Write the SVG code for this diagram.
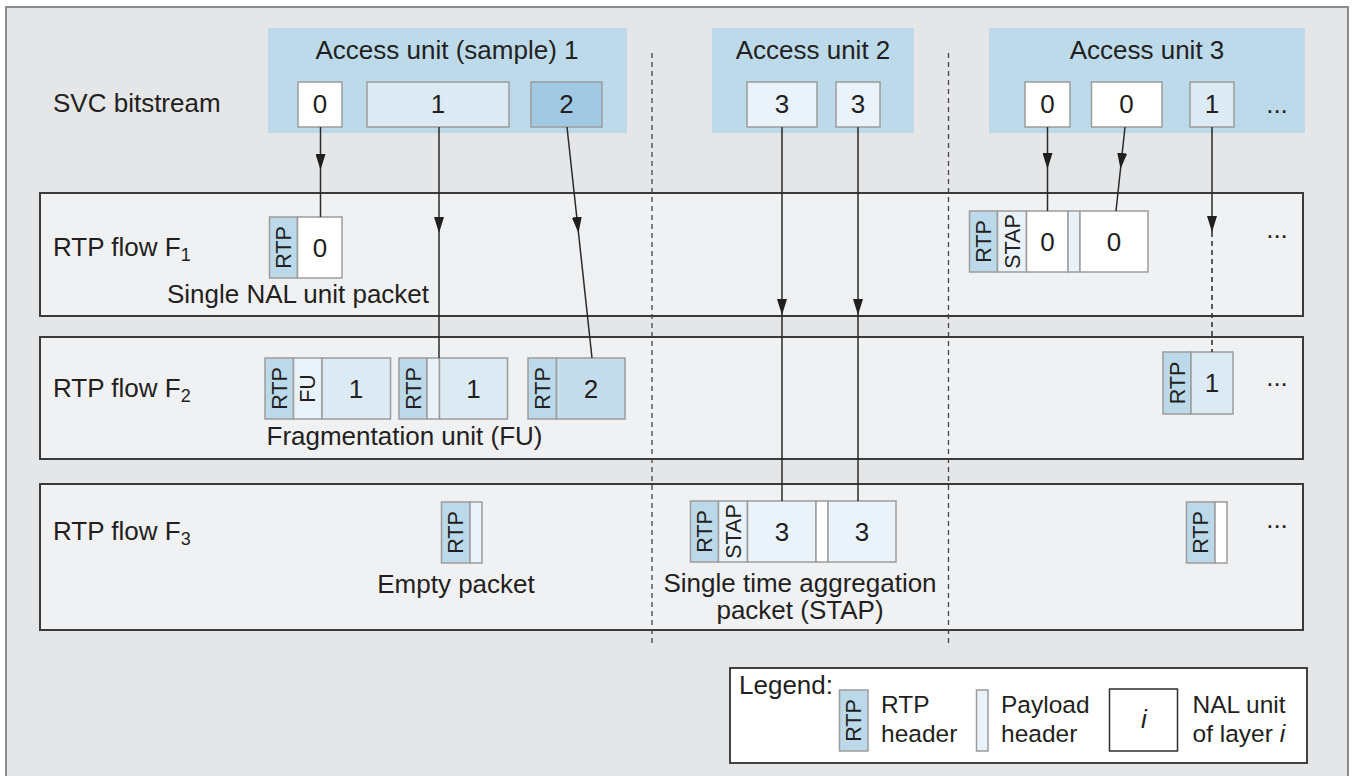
<svg xmlns="http://www.w3.org/2000/svg" width="1356" height="776" viewBox="0 0 1356 776">
<defs>
<style>
text{font-family:"Liberation Sans",Arial,sans-serif;fill:#231f20;}
.t{font-size:26px;}
.lg{font-size:24.5px;}
.c{text-anchor:middle;}
.v{font-size:21.5px;text-anchor:middle;}
.au{fill:#bddaea;}
.cell{stroke:#9c9c9c;stroke-width:1.5;}
.rtp{fill:#bcd9ea;}
.ph{fill:#eaf2f9;}
.l0{fill:#ffffff;}
.l1{fill:#dceaf4;}
.l2{fill:#a2c9e3;}
.l2b{fill:#c4dcec;}
.l3{fill:#eaf2fa;}
.flow{fill:#f0f1f3;stroke:#3a3a3a;stroke-width:2;}
.sep{stroke:#444;stroke-width:1.3;stroke-dasharray:5 4;fill:none;}
.con{stroke:#2a2a2a;stroke-width:1.5;fill:none;}
.arr{marker-end:url(#ah);}
.dash{stroke-dasharray:5 4;}
</style>
<marker id="ah" viewBox="0 0 16 10" refX="16" refY="5" markerWidth="16" markerHeight="10" markerUnits="userSpaceOnUse" orient="auto">
<path d="M0,0 L16,5 L0,10 Z" fill="#1f1f1f"/>
</marker>
</defs>

<rect id="frame" x="6" y="7" width="1342" height="776" fill="#e5e6e8" stroke="#8c8c8c" stroke-width="2"/>

<g id="svc-bitstream">
<text class="t" x="53" y="112">SVC bitstream</text>
</g>

<g id="au1">
<rect class="au" x="268" y="28" width="359" height="105"/>
<text class="t c" x="447" y="59">Access unit (sample) 1</text>
<rect class="cell l0" x="298" y="82" width="44" height="45"/>
<text class="t c" x="320" y="113">0</text>
<rect class="cell l1" x="367" y="82" width="142" height="45"/>
<text class="t c" x="438" y="113">1</text>
<rect class="cell l2" x="531" y="82" width="71" height="45"/>
<text class="t c" x="566.5" y="113">2</text>
</g>

<g id="au2">
<rect class="au" x="712" y="28" width="202" height="105"/>
<text class="t c" x="813" y="59">Access unit 2</text>
<rect class="cell l3" x="747" y="82" width="70" height="45"/>
<text class="t c" x="782" y="113">3</text>
<rect class="cell l3" x="836" y="82" width="44" height="45"/>
<text class="t c" x="858" y="113">3</text>
</g>

<g id="au3">
<rect class="au" x="989" y="28" width="316" height="105"/>
<text class="t c" x="1147" y="59">Access unit 3</text>
<rect class="cell l0" x="1025" y="82" width="45" height="45"/>
<text class="t c" x="1047.5" y="113">0</text>
<rect class="cell l0" x="1091.5" y="82" width="70.5" height="45"/>
<text class="t c" x="1126.5" y="113">0</text>
<rect class="cell l1" x="1190" y="82" width="44" height="45"/>
<text class="t c" x="1212" y="113">1</text>
<text class="t c" x="1277" y="113">...</text>
</g>

<g id="flow-f1">
<rect class="flow" x="40" y="193" width="1263" height="123"/>
<text class="t" x="53" y="256">RTP flow F<tspan font-size="18" dy="5">1</tspan></text>
</g>
<g id="flow-f2">
<rect class="flow" x="40" y="337" width="1263" height="122"/>
<text class="t" x="53" y="397">RTP flow F<tspan font-size="18" dy="5">2</tspan></text>
</g>
<g id="flow-f3">
<rect class="flow" x="40" y="484" width="1263" height="146"/>
<text class="t" x="53" y="540">RTP flow F<tspan font-size="18" dy="5">3</tspan></text>
</g>

<g id="separators">
<line class="sep" x1="652" y1="53" x2="652" y2="645"/>
<line class="sep" x1="948.5" y1="53" x2="948.5" y2="645"/>
</g>

<g id="f1-single-nal">
<rect class="cell rtp" x="269.5" y="217" width="28" height="61"/>
<rect class="cell l0" x="297.5" y="217" width="44.5" height="61"/>
<text class="v" transform="translate(283.5,247.5) rotate(-90)" dy="7.7">RTP</text>
<text class="t c" x="320" y="256.5">0</text>
<text class="t c" x="298" y="303">Single NAL unit packet</text>
</g>

<g id="f1-stap">
<rect class="cell rtp" x="969.5" y="211" width="28" height="61"/>
<rect class="cell ph" x="997.5" y="211" width="29" height="61"/>
<rect class="cell l0" x="1026.5" y="211" width="41.5" height="61"/>
<rect class="cell ph" x="1068" y="211" width="12" height="61"/>
<rect class="cell l0" x="1080" y="211" width="68" height="61"/>
<text class="v" transform="translate(983.5,241.5) rotate(-90)" dy="7.7">RTP</text>
<text class="v" transform="translate(1012,241.5) rotate(-90)" dy="7.7">STAP</text>
<text class="t c" x="1047.5" y="250.5">0</text>
<text class="t c" x="1114" y="250.5">0</text>
<text class="t c" x="1277" y="238">...</text>
</g>

<g id="f2-fu">
<rect class="cell rtp" x="265" y="358" width="28.5" height="61"/>
<rect class="cell ph" x="293.5" y="358" width="28.5" height="61"/>
<rect class="cell l1" x="322" y="358" width="68.5" height="61"/>
<text class="v" transform="translate(279.25,388.5) rotate(-90)" dy="7.7">RTP</text>
<text class="v" transform="translate(307.75,388.5) rotate(-90)" dy="7.7">FU</text>
<text class="t c" x="356" y="397.5">1</text>
<rect class="cell rtp" x="399" y="358" width="28" height="61"/>
<rect class="cell ph" x="427" y="358" width="12.5" height="61"/>
<rect class="cell l1" x="439.5" y="358" width="68" height="61"/>
<text class="v" transform="translate(413,388.5) rotate(-90)" dy="7.7">RTP</text>
<text class="t c" x="473.5" y="397.5">1</text>
<text class="t c" x="404.5" y="445">Fragmentation unit (FU)</text>
</g>

<g id="f2-single">
<rect class="cell rtp" x="528" y="358" width="28.5" height="61"/>
<rect class="cell l2b" x="556.5" y="358" width="68.5" height="61"/>
<text class="v" transform="translate(542.25,388.5) rotate(-90)" dy="7.7">RTP</text>
<text class="t c" x="591" y="397.5">2</text>
</g>

<g id="f2-right">
<rect class="cell rtp" x="1163" y="352" width="28" height="62"/>
<rect class="cell l1" x="1191" y="352" width="42" height="62"/>
<text class="v" transform="translate(1177,383) rotate(-90)" dy="7.7">RTP</text>
<text class="t c" x="1212" y="392">1</text>
<text class="t c" x="1277" y="386">...</text>
</g>

<g id="f3-empty">
<rect class="cell rtp" x="441.5" y="502" width="28.5" height="61"/>
<rect class="cell ph" x="470" y="502" width="12" height="61"/>
<text class="v" transform="translate(455.75,532.5) rotate(-90)" dy="7.7">RTP</text>
<text class="t c" x="456" y="593">Empty packet</text>
</g>

<g id="f3-stap">
<rect class="cell rtp" x="690.5" y="501" width="28" height="61"/>
<rect class="cell ph" x="718.5" y="501" width="29" height="61"/>
<rect class="cell l3" x="747.5" y="501" width="68.5" height="61"/>
<rect class="cell l0" x="816" y="501" width="12" height="61"/>
<rect class="cell l3" x="828" y="501" width="68" height="61"/>
<text class="v" transform="translate(704.5,531.5) rotate(-90)" dy="7.7">RTP</text>
<text class="v" transform="translate(733,531.5) rotate(-90)" dy="7.7">STAP</text>
<text class="t c" x="782" y="540.5">3</text>
<text class="t c" x="862" y="540.5">3</text>
<text class="t c" x="800" y="592">Single time aggregation</text>
<text class="t c" x="800" y="619">packet (STAP)</text>
</g>

<g id="f3-right">
<rect class="cell rtp" x="1186.5" y="502" width="28.5" height="61"/>
<rect class="cell l0" x="1215" y="502" width="12" height="61"/>
<text class="v" transform="translate(1200.75,532.5) rotate(-90)" dy="7.7">RTP</text>
<text class="t c" x="1277" y="528">...</text>
</g>

<g id="connectors">
<path class="con arr" d="M320.5,127 L320.5,170"/>
<path class="con" d="M320.5,170 L320.5,217"/>
<path class="con arr" d="M439,127 L439,233"/>
<path class="con" d="M439,233 L439,358"/>
<path class="con arr" d="M567,127 L578.5,233"/>
<path class="con" d="M578.5,233 L592,358"/>
<path class="con arr" d="M782,127 L782,315"/>
<path class="con" d="M782,315 L782,501"/>
<path class="con arr" d="M858,127 L858,315"/>
<path class="con" d="M858,315 L858,501"/>
<path class="con arr" d="M1047.5,127 L1047.5,169"/>
<path class="con" d="M1047.5,169 L1047.5,211"/>
<path class="con arr" d="M1125,127 L1120.5,169"/>
<path class="con" d="M1120.5,169 L1116,211"/>
<path class="con arr" d="M1212,127 L1212,232"/>
<path class="con dash" d="M1212,232 L1212,352"/>
</g>

<g id="legend">
<rect x="730" y="668" width="577" height="95" fill="#ffffff" stroke="#2e2e2e" stroke-width="1.8"/>
<text class="t" x="739" y="694">Legend:</text>
<rect class="cell rtp" x="839.5" y="690" width="28.5" height="61"/>
<text class="v" transform="translate(853.75,720.5) rotate(-90)" dy="7.7">RTP</text>
<text class="lg" x="881" y="713">RTP</text>
<text class="lg" x="881" y="742">header</text>
<rect class="cell ph" x="976.5" y="690" width="11.5" height="61"/>
<text class="lg" x="1001" y="713">Payload</text>
<text class="lg" x="1001" y="742">header</text>
<rect x="1109.5" y="689" width="68" height="62" fill="#ffffff" stroke="#2e2e2e" stroke-width="1.5"/>
<text class="t c" x="1144" y="728" font-style="italic">i</text>
<text class="lg" x="1192.5" y="713">NAL unit</text>
<text class="lg" x="1192.5" y="742">of layer <tspan font-style="italic">i</tspan></text>
</g>
</svg>
